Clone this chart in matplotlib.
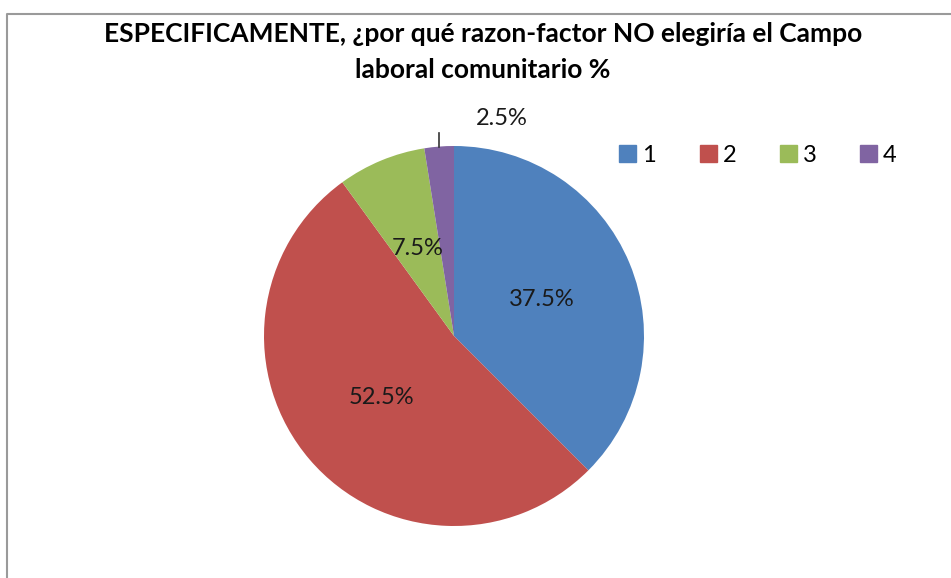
import numpy as np
import matplotlib
matplotlib.use("Agg")
import matplotlib.pyplot as plt

categories = ["1", "2", "3", "4"]
values = [37.5, 52.5, 7.5, 2.5]
colors = ["#4F81BD", "#C0504D", "#9BBB59", "#8064A2"]
title = "ESPECIFICAMENTE, ¿por qué razon-factor NO elegiría el Campo\nlaboral comunitario %"

W, H = 951, 578
fig = plt.figure(figsize=(W / 100, H / 100), dpi=100)
ax = fig.add_axes([0, 0, 1, 1])

cx, cy, r = 454, H - 336, 190
wedges, texts, autotexts = ax.pie(
    values, colors=colors, startangle=90, counterclock=False,
    center=(cx, cy), radius=r,
    autopct=lambda p: f"{p:.1f}%" if p > 5 else "",
    pctdistance=0.5, wedgeprops=dict(linewidth=0),
    textprops=dict(fontsize=17, family="Lato", color="#1a1a1a"))

# small slice label with leader line
w = wedges[3]
ang = np.deg2rad((w.theta1 + w.theta2) / 2)
ex, ey = cx + r * np.cos(ang), cy + r * np.sin(ang)
ax.plot([ex, ex], [ey, ey + 14], color="#333333", lw=1.2)
ax.text(ex + 63, ey + 28, f"{values[3]:.1f}%", fontsize=17, family="Lato",
        color="#1a1a1a", ha="center", va="center")

ax.set_xlim(0, W)
ax.set_ylim(0, H)
ax.set_aspect("equal")
ax.axis("off")

# chart frame
ax.plot([6.5, 6.5, W + 5], [-5, H - 14, H - 14], color="#9a9a9a", lw=1.5, clip_on=False)

fig.text(483 / W, 1 - 52.5 / H, title, ha="center", va="center", fontsize=19,
         family="Lato", fontweight="bold", linespacing=1.6, color="#000000")

handles = [plt.Rectangle((0, 0), 1, 1, color=c) for c in colors]
leg = fig.legend(handles, categories, loc="center left", bbox_to_anchor=(598 / W, 1 - 155 / H),
                 ncol=4, frameon=False, prop=dict(family="Lato", size=17),
                 handlelength=0.72, handleheight=0.72, columnspacing=1.85, handletextpad=0.25)

fig.savefig("out.png", dpi=100)
